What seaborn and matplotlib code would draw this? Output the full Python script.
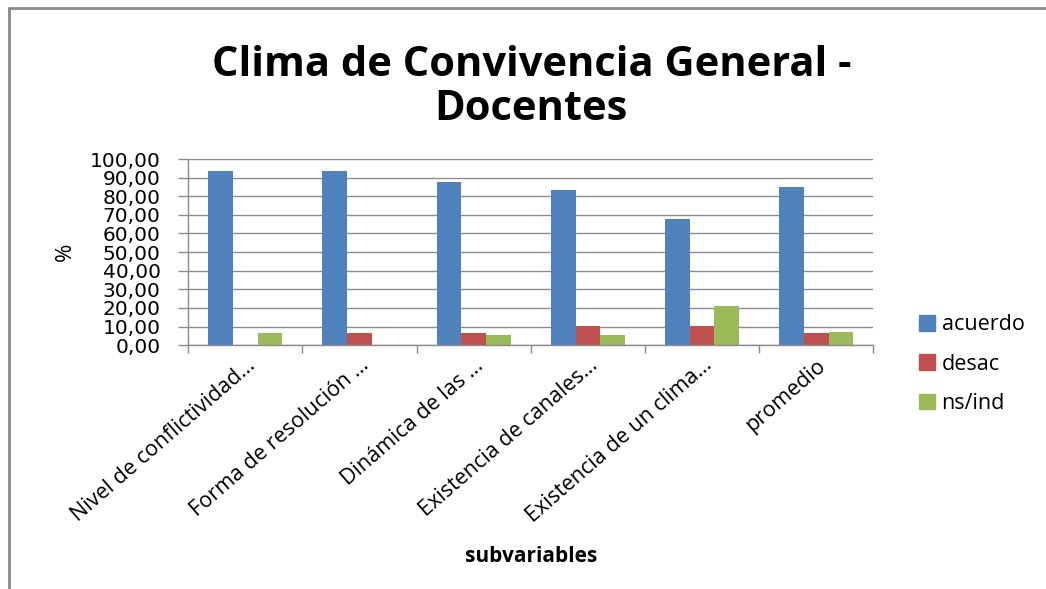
import matplotlib
matplotlib.use("Agg")
import matplotlib.pyplot as plt
import matplotlib.lines as mlines
import numpy as np
import pandas as pd
import seaborn as sns

CATEGORIES = [
    "Nivel de conflictividad…",
    "Forma de resolución …",
    "Dinámica de las …",
    "Existencia de canales…",
    "Existencia de un clima…",
    "promedio",
]
ACUERDO = [93.5, 93.5, 87.4, 83.1, 67.8, 84.9]
DESAC = [0.0, 6.3, 6.3, 10.4, 10.4, 6.6]
NS_IND = [6.3, 0.0, 5.6, 5.6, 20.8, 7.2]
SERIES = ["acuerdo", "desac", "ns/ind"]
COLORS = ["#4F81BD", "#C0504D", "#9BBB59"]
Y_TICKS = [0, 10, 20, 30, 40, 50, 60, 70, 80, 90, 100]

sns.set_theme(style="white")
plt.rcParams["font.family"] = ["Open Sans", "DejaVu Sans"]
plt.rcParams["text.color"] = "black"
plt.rcParams["axes.labelcolor"] = "black"

df = pd.DataFrame({
    "cat": CATEGORIES * 3,
    "serie": np.repeat(SERIES, len(CATEGORIES)),
    "valor": ACUERDO + DESAC + NS_IND,
})

fig = plt.figure(figsize=(10.46, 5.89), dpi=100)
ax = fig.add_axes([0.180, 0.414, 0.655, 0.316])

sns.barplot(
    data=df, x="cat", y="valor", hue="serie", order=CATEGORIES,
    hue_order=SERIES, palette=COLORS, saturation=1, width=0.65,
    edgecolor="none", linewidth=0, ax=ax, errorbar=None,
)

ax.set_xlim(-0.5, len(CATEGORIES) - 0.5)
ax.set_ylim(0, 100)
ax.set_yticks(Y_TICKS)
ax.set_yticklabels([f"{v:.2f}".replace(".", ",") for v in Y_TICKS], fontsize=14.5,
                   family="DejaVu Sans")
ax.yaxis.grid(True, color="#8c8c8c", linewidth=1)
ax.set_axisbelow(True)

# category boundary ticks below the x axis
ax.set_xticks(np.arange(-0.5, len(CATEGORIES)), minor=True)
ax.tick_params(axis="x", which="minor", length=6, width=1, color="#8c8c8c", bottom=True, direction="out")
ax.tick_params(axis="x", which="major", length=0, pad=7, labelcolor="black")
ax.tick_params(axis="y", which="major", length=7, width=1, color="#8c8c8c", left=True,
               direction="out", pad=13, labelcolor="black")
ax.set_xticks(range(len(CATEGORIES)))
ax.set_xticklabels(CATEGORIES, rotation=41, ha="right", rotation_mode="anchor", fontsize=15.5)

for side in ("top", "right"):
    ax.spines[side].set_visible(False)
for side in ("left", "bottom"):
    ax.spines[side].set_color("#8c8c8c")
    ax.spines[side].set_linewidth(1)

ax.set_xlabel("subvariables", fontsize=15, fontweight="bold")
ax.set_ylabel("%", fontsize=16, labelpad=10)
ax.xaxis.set_label_coords(0.5, -1.08)

ax.legend_.remove()
handles = [plt.Rectangle((0, 0), 1, 1, color=c) for c in COLORS]
fig.legend(handles, SERIES, loc="upper left", bbox_to_anchor=(0.86, 0.499),
           frameon=False, fontsize=15.5, handlelength=0.75, handleheight=0.75,
           labelspacing=0.85, handletextpad=0.3)

fig.text(0.508, 0.852, "Clima de Convivencia General -\nDocentes", ha="center",
         va="center", fontsize=30, fontweight="bold", linespacing=1.1)

# chart outer border (left and top edges)
fig.add_artist(mlines.Line2D([0.0085, 0.0085], [0.0, 0.986], color="#8a8a8a", linewidth=2,
                             transform=fig.transFigure))
fig.add_artist(mlines.Line2D([0.0085, 1.0], [0.986, 0.986], color="#8a8a8a", linewidth=2,
                             transform=fig.transFigure))

fig.savefig("out.png", dpi=100)
